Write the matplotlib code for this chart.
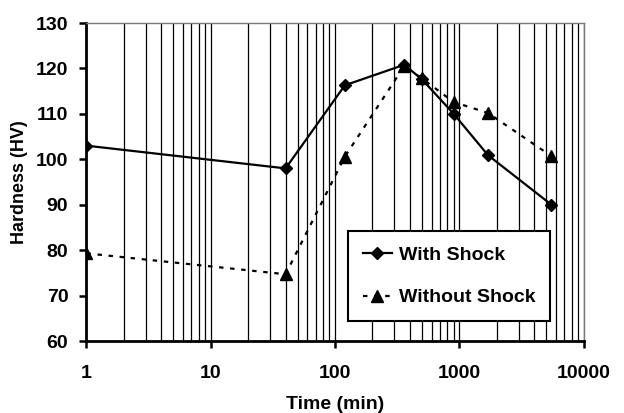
#!/usr/bin/env python3

import matplotlib
matplotlib.use('Agg')
import matplotlib.pyplot as plt
from matplotlib.ticker import LogLocator, FixedLocator, NullFormatter

time_min = [1, 40, 120, 360, 500, 900, 1700, 5500]
with_shock = [103, 98, 116.3, 120.8, 117.6, 110, 100.9, 90]
without_shock = [79.3, 74.7, 100.6, 120.5, 117.8, 112.6, 110.2, 100.7]

y_ticks = [60, 70, 80, 90, 100, 110, 120, 130]
x_ticks = [1, 10, 100, 1000, 10000]
x_tick_labels = ['1', '10', '100', '1000', '10000']

plt.rcParams['font.family'] = ['Liberation Sans', 'DejaVu Sans']
plt.rcParams['font.weight'] = 'bold'

fig = plt.figure(figsize=(6.24, 4.13), dpi=100)
ax = fig.add_axes([0.1385, 0.1743, 0.7969, 0.7700])

ax.plot(time_min, with_shock, color='black', linewidth=1.6, marker='D',
        markersize=6, label='With Shock', zorder=3)
ax.plot(time_min, without_shock, color='black', linewidth=1.6,
        linestyle=(0, (2, 3)), marker='^', markersize=8,
        label='Without Shock', zorder=3)

ax.set_xscale('log')
ax.set_xlim(1, 10000)
ax.set_ylim(60, 130)

ax.xaxis.set_major_locator(FixedLocator(x_ticks))
ax.set_xticklabels(x_tick_labels)
ax.xaxis.set_minor_locator(LogLocator(base=10, subs=range(2, 10), numticks=20))
ax.xaxis.set_minor_formatter(NullFormatter())
ax.set_yticks(y_ticks)

ax.grid(which='both', axis='x', color='black', linewidth=0.9)
ax.tick_params(axis='x', which='minor', length=0)
ax.tick_params(axis='both', which='major', direction='out', length=5,
               width=1.8, labelsize=14, color='black')
ax.tick_params(axis='x', which='major', pad=12)
ax.tick_params(axis='y', which='major', pad=8)

for side in ['left', 'bottom']:
    ax.spines[side].set_linewidth(2)
    ax.spines[side].set_color('black')
for side in ['top', 'right']:
    ax.spines[side].set_linewidth(1)
    ax.spines[side].set_color('#777777')

ax.set_xlabel('Time (min)', fontsize=14, fontweight='bold', labelpad=10)
ax.set_ylabel('Hardness (HV)', fontsize=13, fontweight='bold', labelpad=6)

leg = ax.legend(loc='lower right', bbox_to_anchor=(0.932, 0.063),
                fontsize=14, frameon=True, fancybox=False, framealpha=1,
                edgecolor='black', handlelength=1.5, borderpad=0.75,
                labelspacing=1.3, handletextpad=0.35, borderaxespad=0)
leg.get_frame().set_linewidth(1.5)
leg.set_zorder(5)

fig.savefig('out.png', dpi=100)
